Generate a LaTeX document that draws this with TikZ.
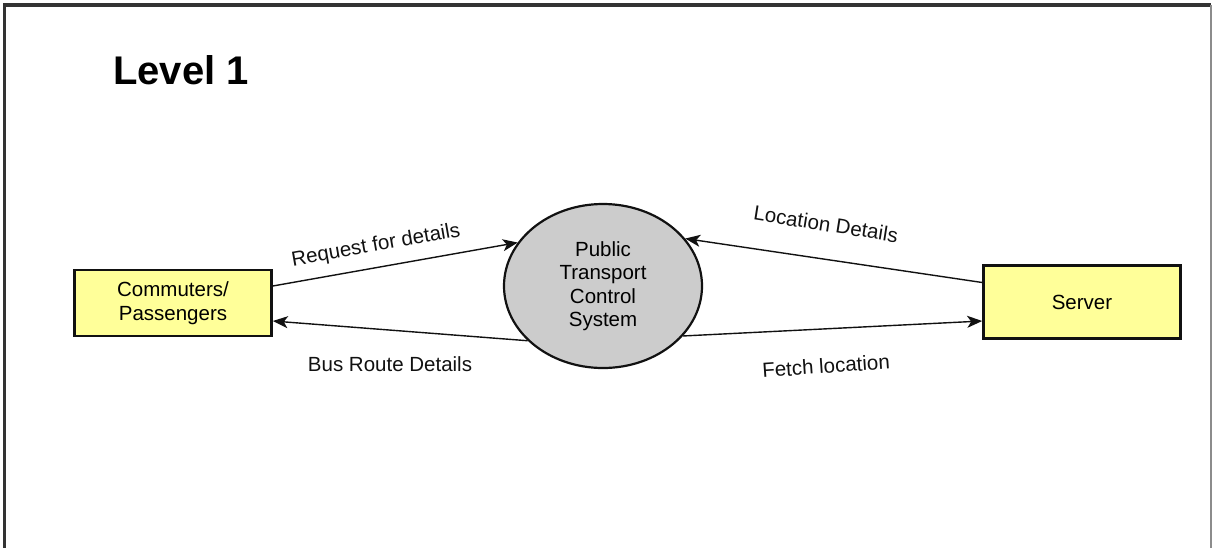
\documentclass[tikz,border=0pt]{standalone}
\usepackage{fontspec}
\setmainfont{Liberation Sans}
\usetikzlibrary{shapes.geometric,arrows.meta}

\definecolor{entityfill}{HTML}{FFFF99}
\definecolor{processfill}{HTML}{CCCCCC}
\definecolor{inkdark}{HTML}{111111}

\tikzset{
  entity/.style={draw=inkdark, line width=2.6pt, fill=entityfill,
    minimum width=197pt, inner sep=0pt, align=center,
    font=\fontsize{20.5}{24}\selectfont},
  process/.style={ellipse, draw=inkdark, line width=2.2pt, fill=processfill,
    minimum width=198pt, minimum height=164pt, inner sep=0pt, align=center,
    font=\fontsize{20.5}{23.5}\selectfont},
  flow/.style={draw=inkdark, line width=1.4pt,
    -{Stealth[length=15pt,width=12pt,inset=4pt]}},
  flowlabel/.style={inner sep=0pt, text=inkdark,
    font=\fontsize{20.5}{24}\selectfont},
}

\begin{document}
\begin{tikzpicture}[x=1pt,y=-1pt]
  \useasboundingbox (0,0) rectangle (1213,547);

  % outer frame, open at the bottom
  \draw[line width=3.2pt, color=black!80] (4.5,550) -- (4.5,5) -- (1211,5);
  \draw[line width=2pt, color=black!45] (1211,5) -- (1211,550);

  % title
  \node[anchor=base west, inner sep=0pt, font=\fontsize{40}{44}\selectfont\bfseries]
    (title) at (113,84) {Level 1};

  % external entities and the central process
  \node[entity, minimum height=66pt] (comm) at (173,303) {Commuters/\\Passengers};
  \node[entity, minimum height=73pt] (server) at (1082,302) {Server};
  \node[process] (sys) at (603,286) {Public\\Transport\\Control\\System};

  % data flows
  \draw[flow] ([yshift=17pt]comm.east) -- (sys.153);
  \draw[flow] (sys.216) -- ([yshift=-18pt]comm.east);
  \draw[flow] ([yshift=19.5pt]server.west) -- (sys.30.5);
  \draw[flow] (sys.328.5) -- ([yshift=-19pt]server.west);

  % flow labels
  \node[flowlabel, rotate=10] (lreq) at (376,246) {Request for details};
  \node[flowlabel] (lbus) at (390,364) {Bus Route Details};
  \node[flowlabel, rotate=-9] (lloc) at (826,224) {Location Details};
  \node[flowlabel, rotate=4] (lfetch) at (826,366) {Fetch location};
\end{tikzpicture}
\end{document}
